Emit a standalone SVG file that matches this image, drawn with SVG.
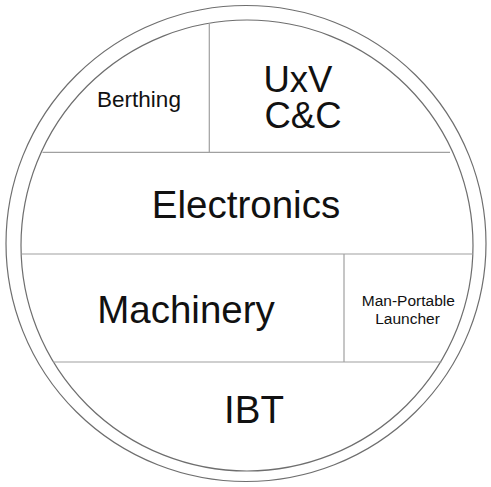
<svg xmlns="http://www.w3.org/2000/svg" width="491" height="487" viewBox="0 0 491 487">
<style>
.ring{fill:none;stroke:#6e6e6e;stroke-width:1.2}
.div{stroke:#a0a0a0;stroke-width:1.2;fill:none}
text{font-family:"Liberation Sans",Arial,sans-serif;fill:#111;text-anchor:middle}
.big{font-size:38.5px}
.uxv{font-size:36.5px}
.mid{font-size:22.5px}
.sm{font-size:15.5px}
</style>
<rect width="491" height="487" fill="#fff"/>
<g id="frame">
<ellipse class="ring" cx="246" cy="243.5" rx="240" ry="238"/>
<ellipse class="ring" cx="247" cy="245.5" rx="226" ry="225.5"/>
</g>
<g id="connectors">
<line class="div" x1="42.5" y1="152.3" x2="450" y2="152.3"/>
<line class="div" x1="21.5" y1="254" x2="473" y2="254"/>
<line class="div" x1="53" y1="362" x2="441.5" y2="362"/>
<line class="div" x1="209.3" y1="23" x2="209.3" y2="152.3"/>
<line class="div" x1="344" y1="254" x2="344" y2="362"/>
</g>
<g id="berthing"><text class="mid" x="139" y="106.5">Berthing</text></g>
<g id="uxv"><text class="uxv" x="298" y="91.7">UxV</text><text class="uxv" x="303" y="127.7">C&amp;C</text></g>
<g id="electronics"><text class="big" x="246" y="218.3">Electronics</text></g>
<g id="machinery"><text class="big" x="186" y="323.3">Machinery</text></g>
<g id="launcher"><text class="sm" x="408.3" y="306">Man-Portable</text><text class="sm" x="407.5" y="324.3">Launcher</text></g>
<g id="ibt"><text class="big" x="254" y="422.7">IBT</text></g>
</svg>
